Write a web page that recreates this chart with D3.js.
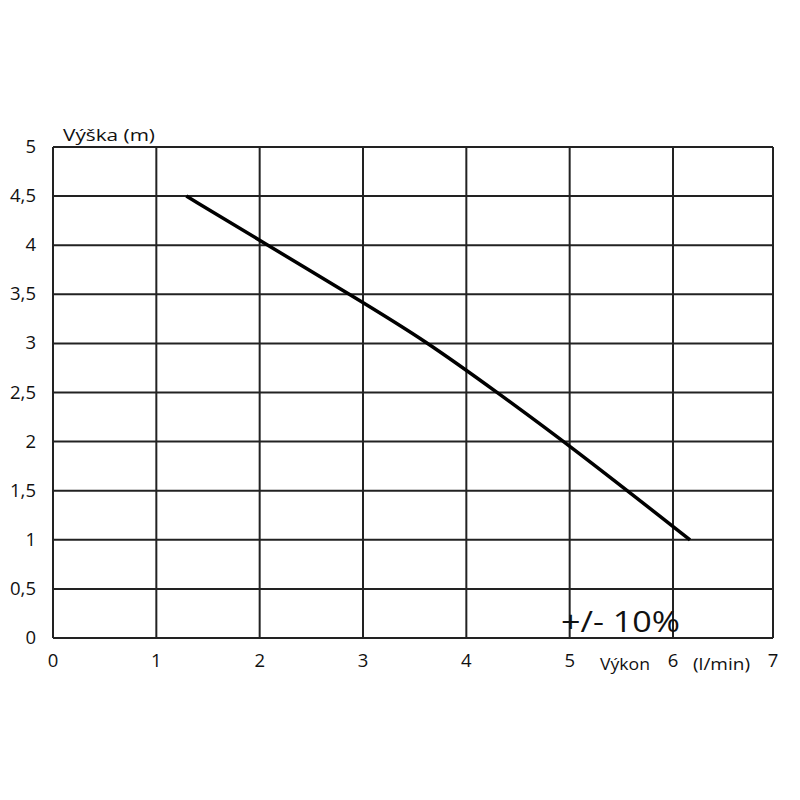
<!DOCTYPE html>
<html><head><meta charset="utf-8">
<script src="https://cdnjs.cloudflare.com/ajax/libs/d3/7.8.5/d3.min.js"></script>
<style>body{margin:0;background:#fff}</style>
</head><body>
<script>
const flowX = [1.29, 2.0, 2.9, 3.6, 4.3, 5.0, 6.17];
const headY = [4.5, 4.05, 3.48, 3.03, 2.5, 1.96, 1.0];
const xTicks = [0, 1, 2, 3, 4, 5, 6, 7];
const yTicks = [0, 0.5, 1, 1.5, 2, 2.5, 3, 3.5, 4, 4.5, 5];
const yTickLabels = ["0", "0,5", "1", "1,5", "2", "2,5", "3", "3,5", "4", "4,5", "5"];
const yTitle = "Výška (m)";
const xTitle = "Výkon";
const xUnit = "(l/min)";
const note = "+/- 10%";

const W = 800, H = 800;
const L = 53, R = 773, T = 147, B = 638;
const font = "'Open Sans', sans-serif";
const svg = d3.select("body").append("svg").attr("width", W).attr("height", H);
// the last grid column in the original is slightly narrower
const x = d3.scaleLinear().domain([0, 6, 7]).range([L, 673, R]);
const y = d3.scaleLinear().domain([0, 5]).range([B, T]);

const g = svg.append("g");
g.selectAll("line.v").data(xTicks).join("line")
  .attr("class", "v")
  .attr("x1", d => x(d)).attr("x2", d => x(d))
  .attr("y1", T).attr("y2", B)
  .attr("stroke", "#222").attr("stroke-width", 2);
g.selectAll("line.h").data(yTicks).join("line")
  .attr("class", "h")
  .attr("x1", L).attr("x2", R)
  .attr("y1", d => y(d)).attr("y2", d => y(d))
  .attr("stroke", "#222").attr("stroke-width", 2);

svg.selectAll("text.yl").data(yTicks).join("text")
  .attr("class", "yl")
  .attr("x", 36).attr("y", d => y(d) + 6)
  .attr("text-anchor", "end")
  .attr("font-family", font).attr("font-size", 18.5).attr("fill", "#111")
  .text((d, i) => yTickLabels[i]);
svg.selectAll("text.xl").data(xTicks).join("text")
  .attr("class", "xl")
  .attr("x", d => x(d)).attr("y", 667)
  .attr("text-anchor", "middle")
  .attr("font-family", font).attr("font-size", 18.5).attr("fill", "#111")
  .text(d => d);

svg.append("text").attr("x", 63).attr("y", 141)
  .attr("font-family", font).attr("font-size", 16.5).attr("fill", "#111")
  .attr("textLength", 92).attr("lengthAdjust", "spacingAndGlyphs").text(yTitle);
svg.append("text").attr("x", 600).attr("y", 670)
  .attr("font-family", font).attr("font-size", 15.5).attr("fill", "#111")
  .attr("textLength", 50).attr("lengthAdjust", "spacingAndGlyphs").text(xTitle);
svg.append("text").attr("x", 693).attr("y", 670)
  .attr("font-family", font).attr("font-size", 15.5).attr("fill", "#111")
  .attr("textLength", 57).attr("lengthAdjust", "spacingAndGlyphs").text(xUnit);
svg.append("text").attr("x", 561).attr("y", 632)
  .attr("font-family", font).attr("font-size", 30).attr("fill", "#111")
  .attr("textLength", 119).attr("lengthAdjust", "spacingAndGlyphs").text(note);

const pts = flowX.map((v, i) => [v, headY[i]]);
svg.append("path").datum(pts)
  .attr("d", d3.line().x(d => x(d[0])).y(d => y(d[1])).curve(d3.curveBasis))
  .attr("fill", "none").attr("stroke", "#000").attr("stroke-width", 3.5);
</script>
</body></html>
